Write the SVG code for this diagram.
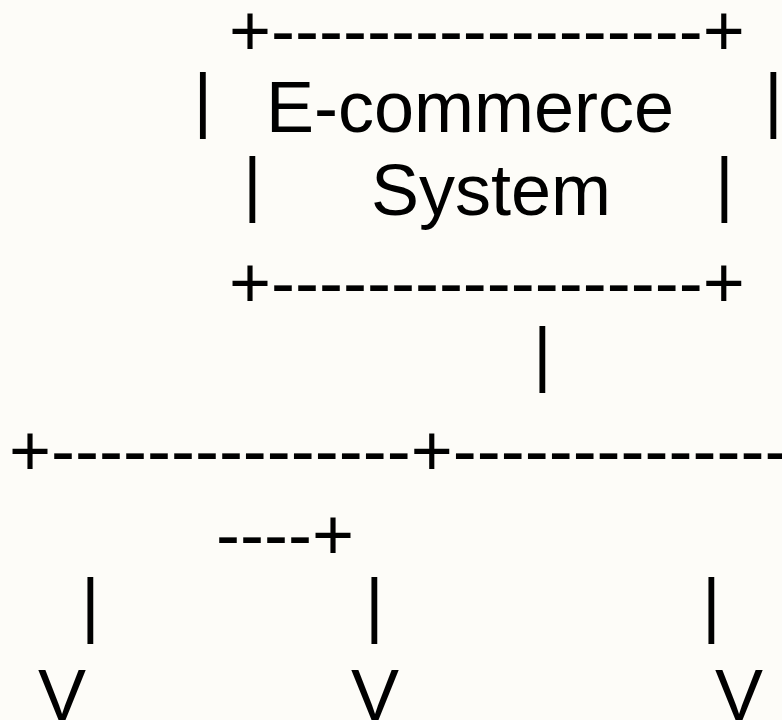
<svg xmlns="http://www.w3.org/2000/svg" width="782" height="720" viewBox="0 0 782 720">
<style>
text{font-family:"Liberation Sans",Arial,Helvetica,sans-serif;font-size:72px;fill:#000}
</style>
<rect width="782" height="720" fill="#fdfcf8"/>
<g id="ecommerce-system">
<text x="229" y="55">+------------------+</text>
<text x="193.4" y="123.6">|</text>
<text x="266" y="132">E-commerce</text>
<text x="764" y="123.6">|</text>
<text x="243" y="207.8">|</text>
<text x="371" y="215">System</text>
<text x="715" y="207.8">|</text>
<text x="229" y="306.5">+------------------+</text>
</g>
<g id="connectors">
<text x="533" y="377.6">|</text>
<text x="9" y="475">+---------------+----------------</text>
<text x="216" y="559">----+</text>
<text x="81" y="628.6">|</text>
<text x="365" y="628.6">|</text>
<text x="702" y="628.6">|</text>
<text x="38" y="720">V</text>
<text x="351" y="720">V</text>
<text x="715" y="720">V</text>
</g>
</svg>
